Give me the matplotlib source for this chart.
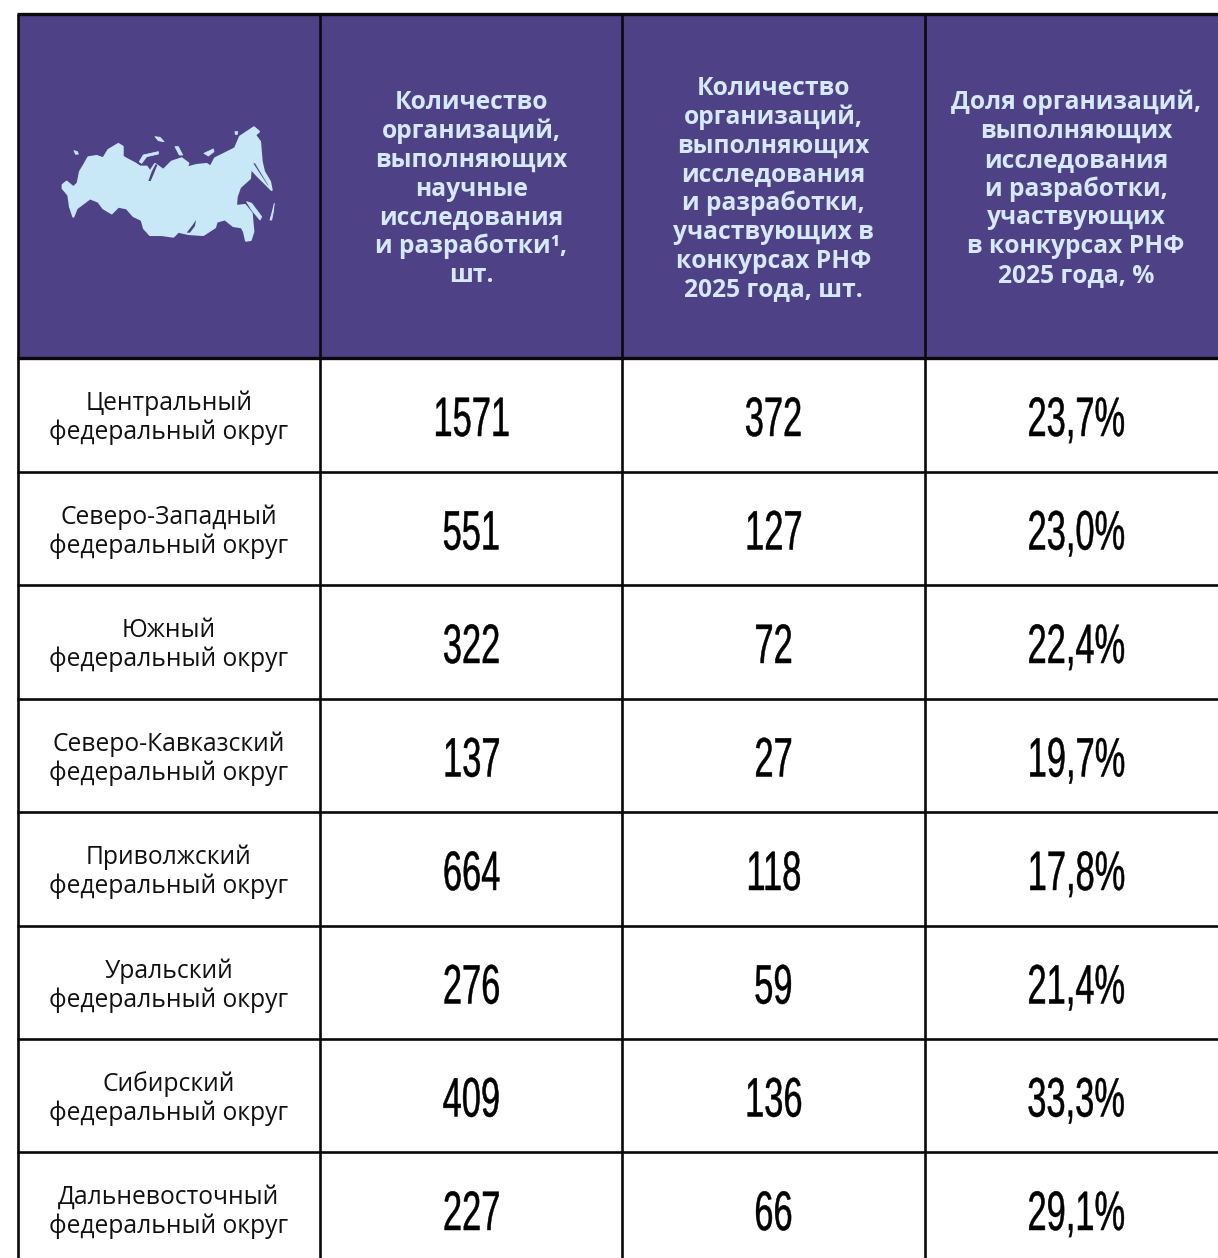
import matplotlib
matplotlib.use('Agg')
import matplotlib.pyplot as plt
from matplotlib import font_manager
from matplotlib.patches import Polygon, Rectangle
from matplotlib.patheffects import AbstractPathEffect
from matplotlib.transforms import Affine2D

W = 1218
H = 1258

districts = ['Центральный', 'Северо-Западный', 'Южный', 'Северо-Кавказский',
             'Приволжский', 'Уральский', 'Сибирский', 'Дальневосточный']
orgs_total = ['1571', '551', '322', '137', '664', '276', '409', '227']
orgs_rscf = ['372', '127', '72', '27', '118', '59', '136', '66']
orgs_share = ['23,7%', '23,0%', '22,4%', '19,7%', '17,8%', '21,4%', '33,3%', '29,1%']

head_1 = ['Количество', 'организаций,', 'выполняющих', 'научные',
          'исследования', 'и разработки¹,', 'шт.']
head_2 = ['Количество', 'организаций,', 'выполняющих', 'исследования',
          'и разработки,', 'участвующих в', 'конкурсах РНФ', '2025 года, шт.']
head_3 = ['Доля организаций,', 'выполняющих', 'исследования', 'и разработки,',
          'участвующих', 'в конкурсах РНФ', '2025 года, %']

# map outline, traced in pixels of a 3x crop that starts at (40, 100)
map_main = [(68, 255), (80, 245), (100, 262), (113, 250), (120, 215), (135, 190), (145, 172),
            (170, 168), (190, 175), (205, 150), (235, 132), (248, 140), (248, 170), (262, 178),
            (285, 190), (300, 200), (320, 200), (330, 215), (345, 192), (370, 210), (395, 185),
            (425, 175), (445, 190), (440, 203), (470, 195), (500, 192), (512, 200), (525, 175),
            (555, 160), (585, 145), (600, 110), (630, 90), (642, 82), (657, 95), (645, 105),
            (660, 125), (665, 185), (672, 215), (690, 245), (695, 270), (680, 255),
            (650, 225), (632, 205), (630, 235), (600, 262), (590, 290), (588, 318), (615, 315),
            (635, 340), (640, 395), (632, 420), (618, 422), (612, 395), (605, 382), (580, 378),
            (555, 358), (530, 365), (525, 382), (490, 405), (445, 402), (415, 395), (400, 410),
            (365, 405), (330, 405), (312, 385), (305, 360), (280, 348), (260, 325), (235, 320),
            (215, 340), (190, 325), (175, 305), (150, 295), (130, 310), (110, 325), (100, 350),
            (90, 320), (85, 285), (68, 265)]
map_islands = [[(298, 185), (310, 165), (355, 155), (355, 162), (320, 170), (305, 190)],
               [(620, 305), (635, 310), (665, 350), (660, 360), (635, 330)],
               [(345, 110), (360, 112), (372, 125), (355, 122)],
               [(405, 140), (415, 140), (428, 165), (418, 165)],
               [(492, 160), (520, 147), (522, 155), (505, 168)],
               [(102, 152), (112, 155), (115, 162), (107, 163)],
               [(585, 95), (593, 95), (592, 103), (586, 103)],
               [(690, 360), (697, 335), (703, 310), (700, 335), (695, 360)]]
map_holes = [[(440, 398), (458, 375), (468, 360), (465, 378), (450, 398)],
             [(325, 243), (335, 215), (347, 192), (352, 195), (342, 220), (332, 243)],
             [(640, 190), (645, 190), (686, 258), (682, 254)]]

col_x = [18, 320, 622, 925, 1228]
row_y = [14, 358, 472, 585, 699, 812, 926, 1039, 1152, 1266]

PURPLE = '#4f4186'
HEAD_TXT = '#d6e9f8'
MAP_COL = '#c9e8f7'
TXT_FONT = ['Open Sans', 'DejaVu Sans']
installed = {f.name for f in font_manager.fontManager.ttflist}
NUM_FONT = 'Liberation Sans Narrow' if 'Liberation Sans Narrow' in installed else 'Liberation Sans'
NUM_SQUEEZE = 0.77 if NUM_FONT == 'Liberation Sans Narrow' else 0.62


class Squeeze(AbstractPathEffect):
    # narrows the glyphs around their own centre, no condensed font is installed
    def __init__(self, sx, stroke):
        super().__init__()
        self.sx = sx
        self.stroke = stroke

    def draw_path(self, renderer, gc, tpath, affine, rgbFace=None):
        box = tpath.get_extents(affine)
        cx = (box.x0 + box.x1) / 2
        squeeze = Affine2D().translate(-cx, 0).scale(self.sx, 1).translate(cx, 0)
        gc0 = renderer.new_gc()
        gc0.copy_properties(gc)
        gc0.set_linewidth(self.stroke)
        gc0.set_foreground('black')
        renderer.draw_path(gc0, tpath, affine + squeeze, rgbFace)
        gc0.restore()


def crop_xy(pts):
    return [(40 + px / 3, 100 + py / 3) for px, py in pts]


fig = plt.figure(figsize=(W / 100, H / 100), dpi=100, facecolor='white')
ax = fig.add_axes([0, 0, 1, 1])
ax.set_xlim(0, W)
ax.set_ylim(H, 0)
ax.axis('off')

# header
ax.add_patch(Rectangle((col_x[0], row_y[0]), col_x[-1] - col_x[0], row_y[1] - row_y[0],
                       facecolor=PURPLE, edgecolor='none', zorder=1))

# map
ax.add_patch(Polygon(crop_xy(map_main), closed=True, facecolor=MAP_COL, edgecolor=MAP_COL,
                     linewidth=1.5, joinstyle='round', zorder=2))
for isl in map_islands:
    ax.add_patch(Polygon(crop_xy(isl), closed=True, facecolor=MAP_COL, edgecolor=MAP_COL,
                         linewidth=0.6, joinstyle='round', zorder=2))
for hole in map_holes:
    ax.add_patch(Polygon(crop_xy(hole), closed=True, facecolor=PURPLE, edgecolor='none', zorder=3))

# grid
for x in col_x[:-1]:
    ax.plot([x, x], [row_y[0], H], color='#0a0a0a', lw=1.9, solid_capstyle='butt', zorder=4)
for i, y in enumerate(row_y[:-1]):
    lw = 2.4 if i < 2 else 1.9
    ax.plot([col_x[0] - 1, W], [y, y], color='#0a0a0a', lw=lw, solid_capstyle='butt', zorder=4)

# header text
LINE_H = 28.8
for lines, cx in zip([head_1, head_2, head_3], [471.5, 773.5, 1076]):
    cy = 189
    top = cy - LINE_H * (len(lines) - 1) / 2
    for k, line in enumerate(lines):
        ax.text(cx, top + k * LINE_H, line, ha='center', va='center', fontsize=17.7,
                fontweight='bold', family=TXT_FONT, color=HEAD_TXT, zorder=5)

# rows
for i in range(len(districts)):
    cy = (row_y[i + 1] + row_y[i + 2]) / 2
    ax.text(169, cy - 11.5, districts[i], ha='center', va='center', fontsize=17.7,
            family=TXT_FONT, color='#111111', zorder=5)
    ax.text(169, cy + 17.5, 'федеральный округ', ha='center', va='center', fontsize=17.7,
            family=TXT_FONT, color='#111111', zorder=5)
    for vals, cx in zip([orgs_total, orgs_rscf, orgs_share], [471.5, 773.5, 1076]):
        ax.text(cx, cy + 7, vals[i], ha='center', va='center', fontsize=40, family=NUM_FONT,
                color='black', zorder=5, path_effects=[Squeeze(NUM_SQUEEZE, 0.35)])

fig.savefig('out.png', dpi=100, facecolor='white')
